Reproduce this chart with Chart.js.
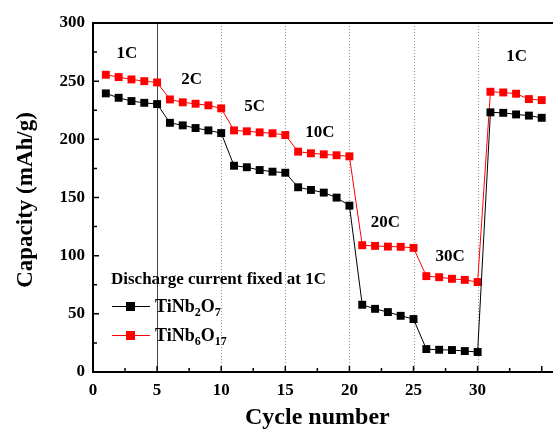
<!DOCTYPE html>
<html>
<head>
<meta charset="utf-8">
<script src="https://cdn.jsdelivr.net/npm/chart.js@4/dist/chart.umd.min.js"></script>
<style>
  html, body { margin: 0; padding: 0; background: #fff; overflow: hidden; }
  #wrap { width: 553px; height: 434px; }
</style>
</head>
<body>
<div id="wrap"><canvas id="rateChart" width="553" height="434"></canvas></div>
<script>
const cycles = [1, 2, 3, 4, 5, 6, 7, 8, 9, 10, 11, 12, 13, 14, 15, 16, 17, 18,
  19, 20, 21, 22, 23, 24, 25, 26, 27, 28, 29, 30, 31, 32, 33, 34, 35];
const tiNb2O7 = [239.5, 235.7, 232.9, 231.4, 230.3, 214.2, 212, 209.7, 207.7, 205.4,
  177.3, 176, 173.6, 172.2, 171.3, 158.8, 156.5, 154.2, 149.9, 143,
  57.8, 54.3, 51.5, 48.3, 45.5, 19.7, 19.1, 18.9, 18, 17.2,
  223.2, 222.8, 221.4, 220.4, 218.5];
const tiNb6O17 = [255.5, 253.5, 251.5, 250, 248.9, 234.3, 231.8, 230.6, 229.2, 226.6,
  207.7, 206.9, 206, 205.2, 203.7, 189.4, 188, 187.1, 186.3, 185.4,
  109, 108.4, 107.8, 107.6, 106.7, 82.4, 81.5, 80.1, 79.2, 77.3,
  240.9, 240.3, 239.2, 234.6, 233.7];
const rateNames = ['1C', '2C', '5C', '10C', '20C', '30C', '1C'];
const rateSwitches = [5, 10, 15, 20, 25, 30];

const serif = '"Liberation Serif", "Times New Roman", serif';

// where each rate label sits, in data units
const rateSpots = [
  [2.65, 274], [7.7, 251.5], [12.6, 228], [17.7, 205.7],
  [22.8, 128.4], [27.85, 99.2], [33.05, 271]
];

const decor = {
  id: 'decor',
  beforeDatasetsDraw(chart) {
    const { ctx, chartArea: a, scales: { x } } = chart;
    ctx.save();
    rateSwitches.forEach((c, i) => {
      const px = Math.round(x.getPixelForValue(c)) + 0.5;
      ctx.beginPath();
      if (i === 0) {
        ctx.strokeStyle = '#444';
        ctx.setLineDash([]);
      } else {
        ctx.strokeStyle = '#999';
        ctx.setLineDash([1, 2]);
      }
      ctx.lineWidth = 1;
      ctx.moveTo(px, a.top);
      ctx.lineTo(px, a.bottom);
      ctx.stroke();
    });
    ctx.restore();
  },
  afterDraw(chart) {
    const { ctx, chartArea: a, scales: { x, y } } = chart;
    ctx.save();
    // frame (right side runs off the canvas)
    ctx.strokeStyle = '#000';
    ctx.lineWidth = 2;
    ctx.beginPath();
    ctx.moveTo(a.right + 2, a.top);
    ctx.lineTo(a.left, a.top);
    ctx.lineTo(a.left, a.bottom);
    ctx.lineTo(a.right + 2, a.bottom);
    ctx.stroke();

    // inward ticks
    ctx.lineWidth = 1.5;
    ctx.beginPath();
    for (let v = 0; v <= 35; v += 2.5) {
      const px = x.getPixelForValue(v);
      const len = v % 5 === 0 ? 6 : 4;
      ctx.moveTo(px, a.bottom);
      ctx.lineTo(px, a.bottom - len);
    }
    for (let v = 0; v <= 300; v += 25) {
      const py = y.getPixelForValue(v);
      const len = v % 50 === 0 ? 6 : 4;
      ctx.moveTo(a.left, py);
      ctx.lineTo(a.left + len, py);
    }
    ctx.stroke();

    // rate labels
    ctx.fillStyle = '#000';
    ctx.font = 'bold 17px ' + serif;
    ctx.textAlign = 'center';
    ctx.textBaseline = 'middle';
    rateNames.forEach((t, i) => {
      ctx.fillText(t, x.getPixelForValue(rateSpots[i][0]), y.getPixelForValue(rateSpots[i][1]));
    });

    // axis titles
    ctx.font = 'bold 24px ' + serif;
    ctx.fillText('Cycle number', x.getPixelForValue(17.5), 418);
    ctx.save();
    ctx.translate(26, 200);
    ctx.rotate(-Math.PI / 2);
    ctx.font = 'bold 23px ' + serif;
    ctx.fillText('Capacity (mAh/g)', 0, 0);
    ctx.restore();

    // legend
    ctx.textAlign = 'left';
    ctx.textBaseline = 'alphabetic';
    ctx.font = 'bold 17px ' + serif;
    ctx.fillText('Discharge current fixed at 1C', 111, 284);
    const entries = [
      { color: '#000', y: 306, parts: [['TiNb', 0], ['2', 1], ['O', 0], ['7', 1]] },
      { color: '#ff0000', y: 335, parts: [['TiNb', 0], ['6', 1], ['O', 0], ['17', 1]] }
    ];
    entries.forEach(e => {
      ctx.strokeStyle = e.color;
      ctx.fillStyle = e.color;
      ctx.lineWidth = 1;
      ctx.beginPath();
      ctx.moveTo(112, e.y + 0.5);
      ctx.lineTo(150, e.y + 0.5);
      ctx.stroke();
      ctx.fillRect(126, e.y - 4, 9, 9);
      ctx.fillStyle = '#000';
      let tx = 155;
      e.parts.forEach(([s, sub]) => {
        ctx.font = sub ? 'bold 12px ' + serif : 'bold 18px ' + serif;
        ctx.fillText(s, tx, e.y + (sub ? 10 : 6));
        tx += ctx.measureText(s).width;
      });
    });
    ctx.restore();
  }
};

new Chart(document.getElementById('rateChart'), {
  type: 'line',
  data: {
    labels: cycles,
    datasets: [{
      label: 'TiNb2O7',
      data: cycles.map((c, i) => ({ x: c, y: tiNb2O7[i] })),
      borderColor: '#000',
      backgroundColor: '#000',
      borderWidth: 1,
      pointStyle: 'rect',
      pointRadius: 5.6,
      pointBorderWidth: 0
    }, {
      label: 'TiNb6O17',
      data: cycles.map((c, i) => ({ x: c, y: tiNb6O17[i] })),
      borderColor: '#ff0000',
      backgroundColor: '#ff0000',
      borderWidth: 1,
      pointStyle: 'rect',
      pointRadius: 5.6,
      pointBorderWidth: 0
    }]
  },
  options: {
    responsive: false,
    animation: false,
    layout: { autoPadding: false, padding: { top: 23, right: 0, left: 0, bottom: 0 } },
    plugins: { legend: { display: false }, tooltip: { enabled: false } },
    scales: {
      x: {
        type: 'linear',
        min: 0,
        max: 35.88,
        grid: { display: false, drawTicks: false },
        border: { display: false },
        afterBuildTicks: s => { s.ticks = s.ticks.filter(t => t.value % 5 === 0); },
        afterFit: s => { s.height = 62; s.paddingLeft = 0; s.paddingRight = 0; },
        ticks: {
          stepSize: 5,
          padding: 8,
          color: '#000',
          maxRotation: 0,
          font: { family: serif, size: 17, weight: 'bold' }
        }
      },
      y: {
        min: 0,
        max: 300,
        grid: { display: false, drawTicks: false },
        border: { display: false },
        afterFit: s => { s.width = 93; s.paddingTop = 0; s.paddingBottom = 0; },
        ticks: {
          stepSize: 50,
          padding: 8,
          color: '#000',
          font: { family: serif, size: 17, weight: 'bold' }
        }
      }
    }
  },
  plugins: [decor]
});
</script>
</body>
</html>
